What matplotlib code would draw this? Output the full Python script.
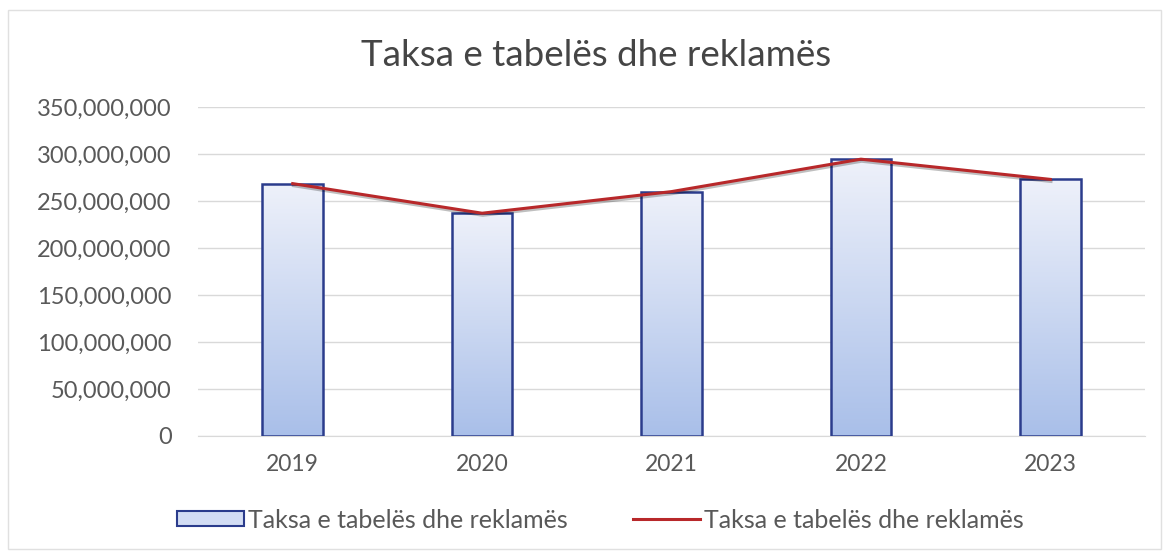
import numpy as np
import matplotlib
matplotlib.use("Agg")
import matplotlib.pyplot as plt
from matplotlib.patches import Rectangle
from matplotlib.lines import Line2D
import matplotlib.patheffects as pe
from matplotlib.ticker import FuncFormatter, MultipleLocator

years = ["2019", "2020", "2021", "2022", "2023"]
bar_values = [268.5e6, 237.0e6, 260.0e6, 294.5e6, 273.0e6]
line_values = [268.5e6, 237.0e6, 260.0e6, 294.5e6, 273.0e6]
series_name = "Taksa e tabelës dhe reklamës"
title = "Taksa e tabelës dhe reklamës"

plt.rcParams["font.family"] = ["Lato", "DejaVu Sans"]
TEXT = "#595959"
EDGE = "#2b3c8c"
LINE = "#b8282a"

fig = plt.figure(figsize=(11.67, 5.53), dpi=100)
W, H = 1167, 553
ax = fig.add_axes([198 / W, 1 - 436 / H, (1145 - 198) / W, (436 - 107) / H])

x = np.arange(len(years))
bw = 0.32
bars = ax.bar(x, bar_values, width=bw, facecolor="none", edgecolor=EDGE,
              linewidth=1.8, zorder=3)

# vertical gradient inside each bar: pale at the top, deeper blue at the base
grad = np.linspace(0, 1, 256).reshape(-1, 1)
cmap = matplotlib.colors.LinearSegmentedColormap.from_list(
    "barfill", ["#a9bfe9", "#eef1fa"])
for b in bars:
    x0, y0 = b.get_x(), b.get_y()
    im = ax.imshow(grad, cmap=cmap, origin="lower", aspect="auto",
                   extent=[x0, x0 + b.get_width(), y0, y0 + b.get_height()],
                   zorder=2)
    im.set_clip_path(b)

ax.plot(x, line_values, color=LINE, linewidth=2.2, zorder=4,
        path_effects=[pe.SimpleLineShadow(offset=(0.5, -1.5), alpha=0.25),
                      pe.Normal()])

ax.set_xlim(-0.5, len(years) - 0.5)
ax.set_ylim(0, 350e6)
ax.yaxis.set_major_locator(MultipleLocator(50e6))
ax.yaxis.set_major_formatter(FuncFormatter(lambda v, p: f"{int(v):,}"))
ax.set_xticks(x)
ax.set_xticklabels(years)
ax.grid(axis="y", color="#d9d9d9", linewidth=1.0, zorder=0)
ax.set_axisbelow(True)
for s in ["top", "right", "left"]:
    ax.spines[s].set_visible(False)
ax.spines["bottom"].set_color("#d9d9d9")
ax.tick_params(axis="both", length=0, colors=TEXT)
ax.tick_params(axis="y", pad=19, labelsize=17)
ax.tick_params(axis="x", pad=13, labelsize=16.5)

fig.text(596 / W, 1 - 56 / H, title, ha="center", va="center",
         fontsize=26.5, color="#454545")

# outer chart frame
fig.patches.append(Rectangle((8 / W, 4 / H), (W - 14) / W, (H - 14) / H,
                             transform=fig.transFigure, fill=False,
                             edgecolor="#e0e0e0", linewidth=1.0))

bar_handle = Rectangle((0, 0), 1, 1, facecolor="#d3ddf4", edgecolor=EDGE,
                       linewidth=1.5)
line_handle = Line2D([0], [0], color=LINE, linewidth=2.2)
fig.legend([bar_handle, line_handle], [series_name, series_name],
           loc="center", bbox_to_anchor=(600 / W, 1 - 520 / H), ncol=2,
           frameon=False, fontsize=18, labelcolor=TEXT,
           handlelength=2.7, handleheight=0.55, handletextpad=0.15,
           columnspacing=2.6)

fig.savefig("out.png", dpi=100)
